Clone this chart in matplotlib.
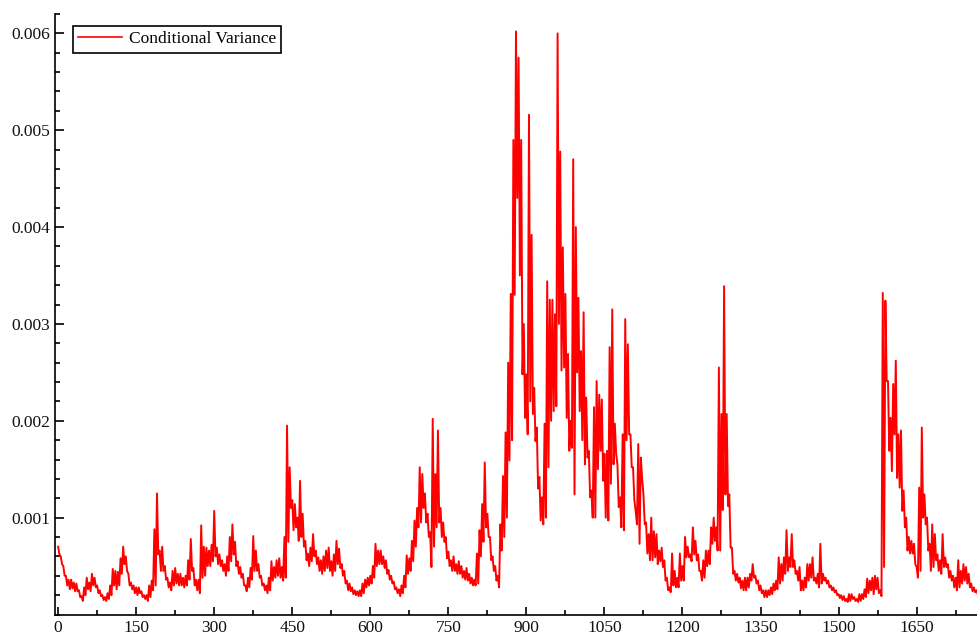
import numpy as np
import matplotlib
matplotlib.use("Agg")
import matplotlib.pyplot as plt
from matplotlib.ticker import MultipleLocator

# varianza condizionale: massimo e minimo su ogni blocco di 5 osservazioni (unita' 1e-3)
block = 5
var_max_e3 = [
    0.70, 0.60, 0.50, 0.40, 0.36, 0.36, 0.33, 0.32, 0.25, 0.19,
    0.28, 0.38, 0.33, 0.42, 0.38, 0.30, 0.25, 0.20, 0.18, 0.22,
    0.30, 0.47, 0.45, 0.44, 0.58, 0.70, 0.60, 0.42, 0.33, 0.30,
    0.28, 0.28, 0.24, 0.20, 0.20, 0.30, 0.35, 0.88, 1.25, 0.66,
    0.70, 0.50, 0.38, 0.33, 0.45, 0.48, 0.42, 0.42, 0.38, 0.40,
    0.56, 0.78, 0.48, 0.36, 0.36, 0.92, 0.70, 0.69, 0.66, 0.72,
    1.07, 0.69, 0.62, 0.56, 0.52, 0.60, 0.80, 0.93, 0.75, 0.55,
    0.49, 0.42, 0.30, 0.38, 0.48, 0.81, 0.66, 0.52, 0.40, 0.32,
    0.30, 0.38, 0.55, 0.49, 0.56, 0.58, 0.49, 0.80, 1.95, 1.52,
    1.18, 1.14, 1.00, 1.38, 1.04, 0.76, 0.63, 0.69, 0.83, 0.66,
    0.59, 0.56, 0.60, 0.66, 0.69, 0.55, 0.62, 0.76, 0.68, 0.52,
    0.45, 0.35, 0.32, 0.28, 0.25, 0.24, 0.25, 0.32, 0.36, 0.38,
    0.40, 0.50, 0.73, 0.66, 0.66, 0.60, 0.56, 0.46, 0.40, 0.34,
    0.28, 0.26, 0.30, 0.40, 0.61, 0.58, 0.76, 0.97, 1.10, 1.52,
    1.45, 1.25, 1.04, 0.85, 2.02, 1.45, 1.90, 1.10, 0.95, 0.80,
    0.65, 0.56, 0.60, 0.52, 0.55, 0.50, 0.45, 0.48, 0.42, 0.38,
    0.36, 0.63, 0.87, 1.14, 1.57, 1.04, 0.80, 0.60, 0.50, 0.40,
    0.93, 1.43, 1.88, 2.60, 3.31, 4.90, 6.02, 5.75, 4.90, 3.00,
    2.48, 5.16, 3.92, 2.34, 1.93, 1.42, 1.21, 1.97, 3.44, 3.25,
    3.25, 3.10, 6.00, 4.78, 3.79, 3.31, 2.69, 2.00, 4.70, 4.00,
    3.27, 2.72, 3.12, 2.24, 1.69, 1.28, 2.14, 2.41, 2.27, 2.22,
    1.66, 1.69, 2.76, 3.15, 1.97, 1.55, 1.21, 1.86, 3.05, 2.79,
    1.86, 1.52, 1.07, 1.76, 1.62, 1.24, 0.95, 0.83, 1.00, 0.86,
    0.83, 0.66, 0.69, 0.56, 0.38, 0.28, 0.63, 0.45, 0.38, 0.63,
    0.50, 0.80, 0.70, 0.62, 0.90, 0.76, 0.62, 0.45, 0.56, 0.66,
    0.66, 0.90, 1.00, 0.90, 2.55, 2.07, 3.39, 2.07, 1.24, 0.69,
    0.45, 0.42, 0.38, 0.35, 0.38, 0.38, 0.42, 0.52, 0.40, 0.35,
    0.30, 0.25, 0.25, 0.25, 0.28, 0.32, 0.35, 0.59, 0.52, 0.59,
    0.87, 0.59, 0.83, 0.56, 0.45, 0.49, 0.35, 0.38, 0.52, 0.52,
    0.59, 0.38, 0.42, 0.73, 0.42, 0.38, 0.35, 0.30, 0.28, 0.25,
    0.21, 0.20, 0.19, 0.16, 0.21, 0.21, 0.18, 0.16, 0.21, 0.21,
    0.26, 0.37, 0.35, 0.38, 0.40, 0.38, 0.25, 3.32, 3.24, 2.41,
    2.03, 2.38, 2.62, 1.86, 1.90, 1.28, 1.00, 0.80, 0.76, 0.73,
    0.49, 1.31, 1.93, 1.24, 1.00, 0.73, 0.93, 0.83, 0.62, 0.56,
    0.83, 0.59, 0.52, 0.45, 0.40, 0.38, 0.56, 0.45, 0.52, 0.49,
    0.42, 0.32, 0.28, 0.25, 0.23,
]
var_min_e3 = [
    0.62, 0.52, 0.40, 0.30, 0.26, 0.27, 0.24, 0.24, 0.18, 0.14,
    0.20, 0.26, 0.24, 0.30, 0.28, 0.22, 0.19, 0.15, 0.14, 0.16,
    0.20, 0.30, 0.26, 0.30, 0.42, 0.52, 0.45, 0.30, 0.26, 0.22,
    0.20, 0.22, 0.18, 0.16, 0.14, 0.18, 0.25, 0.30, 0.62, 0.45,
    0.45, 0.36, 0.28, 0.25, 0.30, 0.32, 0.30, 0.30, 0.28, 0.30,
    0.36, 0.45, 0.30, 0.25, 0.22, 0.38, 0.40, 0.50, 0.50, 0.55,
    0.60, 0.52, 0.50, 0.45, 0.40, 0.45, 0.55, 0.62, 0.50, 0.42,
    0.38, 0.30, 0.24, 0.28, 0.36, 0.45, 0.45, 0.38, 0.30, 0.25,
    0.22, 0.25, 0.35, 0.38, 0.40, 0.38, 0.35, 0.38, 0.75, 1.10,
    0.87, 0.90, 0.76, 0.80, 0.70, 0.56, 0.50, 0.55, 0.60, 0.52,
    0.45, 0.42, 0.45, 0.48, 0.45, 0.40, 0.45, 0.52, 0.48, 0.40,
    0.32, 0.25, 0.24, 0.21, 0.20, 0.19, 0.19, 0.22, 0.28, 0.30,
    0.32, 0.38, 0.50, 0.52, 0.52, 0.48, 0.42, 0.36, 0.32, 0.26,
    0.22, 0.19, 0.22, 0.28, 0.42, 0.45, 0.55, 0.70, 0.90, 0.95,
    1.10, 0.95, 0.80, 0.49, 0.70, 0.90, 0.95, 0.80, 0.75, 0.58,
    0.50, 0.45, 0.45, 0.42, 0.42, 0.38, 0.36, 0.35, 0.32, 0.30,
    0.30, 0.32, 0.60, 0.75, 0.90, 0.80, 0.56, 0.45, 0.35, 0.28,
    0.66, 0.80, 1.00, 1.59, 1.80, 3.30, 4.30, 3.50, 2.48, 2.03,
    1.86, 2.20, 2.07, 1.79, 1.30, 0.97, 0.93, 1.00, 1.52, 2.00,
    2.10, 2.15, 3.00, 2.52, 2.55, 2.03, 1.69, 1.72, 1.24, 2.50,
    2.10, 1.80, 1.55, 1.62, 1.21, 1.00, 1.00, 1.50, 1.69, 1.38,
    1.00, 0.97, 1.35, 1.55, 1.66, 1.11, 0.90, 0.87, 1.80, 1.86,
    1.52, 1.18, 0.93, 0.73, 1.40, 0.93, 0.63, 0.56, 0.56, 0.59,
    0.52, 0.55, 0.49, 0.35, 0.25, 0.23, 0.30, 0.28, 0.28, 0.35,
    0.35, 0.59, 0.59, 0.55, 0.62, 0.56, 0.45, 0.35, 0.38, 0.50,
    0.52, 0.73, 0.76, 0.66, 0.66, 1.08, 1.24, 1.12, 0.69, 0.42,
    0.35, 0.33, 0.27, 0.25, 0.25, 0.28, 0.35, 0.38, 0.32, 0.25,
    0.22, 0.18, 0.18, 0.20, 0.21, 0.25, 0.26, 0.32, 0.35, 0.42,
    0.45, 0.49, 0.49, 0.42, 0.35, 0.25, 0.25, 0.28, 0.35, 0.38,
    0.35, 0.32, 0.28, 0.32, 0.35, 0.32, 0.28, 0.25, 0.23, 0.20,
    0.17, 0.15, 0.14, 0.13, 0.14, 0.16, 0.14, 0.13, 0.14, 0.16,
    0.18, 0.22, 0.25, 0.21, 0.26, 0.22, 0.19, 0.49, 2.41, 1.69,
    1.48, 1.86, 1.41, 1.31, 1.07, 0.90, 0.66, 0.63, 0.63, 0.52,
    0.38, 0.45, 1.00, 0.93, 0.66, 0.45, 0.49, 0.56, 0.45, 0.42,
    0.49, 0.49, 0.38, 0.35, 0.28, 0.25, 0.28, 0.32, 0.35, 0.32,
    0.28, 0.24, 0.23, 0.21, 0.20,
]
x_ticks = [0, 150, 300, 450, 600, 750, 900, 1050, 1200, 1350, 1500, 1650]
y_ticks = [0.001, 0.002, 0.003, 0.004, 0.005, 0.006]
y_labels = ['0.001', '0.002', '0.003', '0.004', '0.005', '0.006']

# in ogni blocco la serie tocca il massimo e poi il minimo
hi = np.array(var_max_e3) * 1e-3
lo = np.array(var_min_e3) * 1e-3
t0 = np.arange(len(hi)) * block
obs = np.column_stack([t0, t0 + block / 2]).ravel()
cond_var = np.column_stack([hi, lo]).ravel()

plt.rcParams['font.family'] = ['Liberation Serif', 'DejaVu Serif']
plt.rcParams['font.size'] = 12.5

fig = plt.figure(figsize=(9.78, 6.36), dpi=100)
ax = fig.add_axes([55/978, 21.5/636, 923/978, 600.5/636])

ax.plot(obs, cond_var, color='#ff0000', lw=1.4, label='Conditional Variance')

ax.set_xlim(-6, 1768)
ax.set_ylim(0, 0.0062)
ax.set_xticks(x_ticks)
ax.set_xticklabels([str(t) for t in x_ticks])
ax.set_yticks(y_ticks)
ax.set_yticklabels(y_labels)
ax.xaxis.set_minor_locator(MultipleLocator(75))
ax.yaxis.set_minor_locator(MultipleLocator(0.0002))

for s in ['top', 'right']:
    ax.spines[s].set_visible(False)
for s in ['left', 'bottom']:
    ax.spines[s].set_linewidth(1.2)
    ax.spines[s].set_color('black')

ax.tick_params(axis='both', which='both', direction='in', color='black', width=1.2, labelcolor='#111111')
ax.tick_params(axis='x', which='major', length=5.5, pad=3.8)
ax.tick_params(axis='x', which='minor', length=3.4)
ax.tick_params(axis='y', which='major', length=6.5, pad=3.5)
ax.tick_params(axis='y', which='minor', length=3.6)

leg = ax.legend(loc='upper left', bbox_to_anchor=(73/978, 1 - 26/636), bbox_transform=fig.transFigure,
                borderaxespad=0, fancybox=False, framealpha=1, edgecolor='black',
                handlelength=2.5, handletextpad=0.4, borderpad=0.3)
leg.get_frame().set_linewidth(1.2)
leg.get_lines()[0].set_linewidth(1.2)

plt.savefig('out.png', dpi=100)
